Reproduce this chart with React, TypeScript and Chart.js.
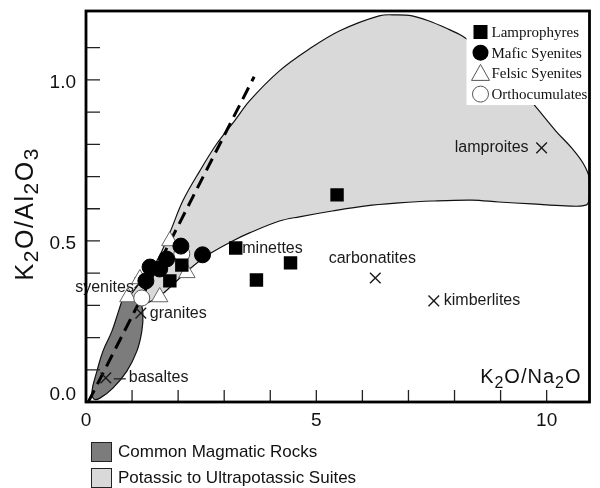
import { useEffect, useRef } from 'react';
import { Chart, registerables } from 'chart.js';

Chart.register(...registerables);

// ---- axis ranges and ticks ----
const xRange = [0, 10.93];
const yRange = [0, 1.214];
const xMinorTicks = [1, 2, 3, 4, 5, 6, 7, 8, 9, 10];
const yMinorTicks = [0.1, 0.2, 0.3, 0.4, 0.5, 0.6, 0.7, 0.8, 0.9, 1.0, 1.1];
const xLabelValues = [0, 5, 10];
const xLabelTexts = ['0', '5', '10'];
const yLabelValues = [0, 0.5, 1.0];
const yLabelTexts = ['0.0', '0.5', '1.0'];

// ---- compositional fields (closed outlines, K2O/Na2O vs K2O/Al2O3) ----
const potassicX = [
  0.866, 1.169, 1.537, 1.818, 2.1, 2.468, 2.835, 3.225, 3.55, 4.199, 4.848, 5.498, 6.364, 6.732,
  7.078, 7.446, 7.814, 8.16, 8.745, 9.286, 9.784, 10.195, 10.541, 10.801, 10.93, 10.93, 10.866,
  10.411, 9.675, 8.961, 8.377, 7.511, 6.797, 6.082, 5.346, 4.632, 4.199, 3.55, 3.182, 2.684, 2.251,
  1.926, 1.602, 1.277, 1.039, 0.866,
];
const potassicY = [
  0.314, 0.37, 0.438, 0.525, 0.624, 0.717, 0.801, 0.873, 0.935, 1.028, 1.096, 1.152, 1.199, 1.202,
  1.199, 1.183, 1.161, 1.137, 1.075, 0.997, 0.913, 0.842, 0.789, 0.739, 0.693, 0.64, 0.612,
  0.609, 0.615, 0.621, 0.627, 0.624, 0.618, 0.609, 0.593, 0.575, 0.562, 0.525, 0.5, 0.46, 0.413,
  0.37, 0.329, 0.304, 0.298, 0.314,
];
const commonX = [
  0.779, 0.996, 1.169, 1.234, 1.212, 1.104, 0.887, 0.584, 0.303, 0.173, 0.13, 0.238, 0.368, 0.563,
  0.693, 0.779,
];
const commonY = [
  0.314, 0.32, 0.311, 0.276, 0.22, 0.158, 0.096, 0.043, 0.012, 0.009, 0.034, 0.096, 0.158, 0.22,
  0.276, 0.314,
];

// ---- dashed trend ----
const trendX = [0.05, 3.65];
const trendY = [0.0, 1.01];

// ---- samples ----
const lamprophyreX = [2.08, 1.82, 3.25, 4.44, 3.7, 5.45];
const lamprophyreY = [0.425, 0.376, 0.478, 0.432, 0.379, 0.643];
const maficSyeniteX = [2.06, 2.53, 1.75, 1.6, 1.39, 1.3];
const maficSyeniteY = [0.484, 0.457, 0.444, 0.413, 0.419, 0.376];
const felsicSyeniteX = [1.82, 1.17, 0.91, 1.6, 2.19];
const felsicSyeniteY = [0.5, 0.382, 0.326, 0.326, 0.401];
const orthocumulateX = [2.08, 1.21];
const orthocumulateY = [0.46, 0.323];

// ---- reference rock types ----
const rockNames = ['basaltes', 'granites', 'syenites', 'minettes', 'carbonatites', 'kimberlites', 'lamproites'];
const rockX = [0.43, 1.19, 1.17, 3.24, 6.28, 7.55, 9.89];
const rockY = [0.075, 0.276, 0.37, 0.478, 0.385, 0.314, 0.789];

const legendNames = ['Lamprophyres', 'Mafic Syenites', 'Felsic Syenites', 'Orthocumulates'];
const fieldNames = ['Common Magmatic Rocks', 'Potassic to Ultrapotassic Suites'];

// label placement relative to each reference mark (pixels)
const labelPlacement: Record<string, { align: CanvasTextAlign; dx: number; dy: number; leader?: boolean }> = {
  basaltes: { align: 'left', dx: 23, dy: 0, leader: true },
  granites: { align: 'left', dx: 9, dy: 0 },
  syenites: { align: 'right', dx: -6, dy: 5 },
  minettes: { align: 'left', dx: 7, dy: 1 },
  carbonatites: { align: 'center', dx: -3, dy: -19 },
  kimberlites: { align: 'left', dx: 10, dy: 0 },
  lamproites: { align: 'right', dx: -13, dy: 0 },
};

const SANS = '"Liberation Sans", Arial, Helvetica, sans-serif';
const SERIF = '"Liberation Serif", "Times New Roman", serif';
const LIGHT = '#d9d9d9';
const DARK = '#7c7c7c';

const pts = (xs: number[], ys: number[]) => xs.map((x, i) => ({ x, y: ys[i] }));

type Part = [string, boolean];

function formulaWidth(ctx: CanvasRenderingContext2D, parts: Part[], size: number, sub: number, spacing: number) {
  let w = 0;
  let n = 0;
  for (const [t, isSub] of parts) {
    ctx.font = `${isSub ? sub : size}px ${SANS}`;
    for (const ch of t) {
      w += ctx.measureText(ch).width;
      n++;
    }
  }
  return w + spacing * (n - 1);
}

function drawFormula(
  ctx: CanvasRenderingContext2D,
  parts: Part[],
  x: number,
  y: number,
  size: number,
  sub: number,
  drop: number,
  spacing: number,
) {
  let cx = x;
  ctx.textAlign = 'left';
  ctx.textBaseline = 'alphabetic';
  for (const [t, isSub] of parts) {
    ctx.font = `${isSub ? sub : size}px ${SANS}`;
    for (const ch of t) {
      ctx.fillText(ch, cx, y + (isSub ? drop : 0));
      cx += ctx.measureText(ch).width + spacing;
    }
  }
}

const yTitle: Part[] = [['K', false], ['2', true], ['O/Al', false], ['2', true], ['O', false], ['3', true]];
const xTitle: Part[] = [['K', false], ['2', true], ['O/Na', false], ['2', true], ['O', false]];

const decorations = {
  id: 'decorations',
  afterDatasetsDraw(chart: any) {
    const { ctx, chartArea: a, scales } = chart;
    const xs = scales.x;
    const ys = scales.y;
    ctx.save();

    // reference labels
    ctx.fillStyle = '#1a1a1a';
    ctx.font = `16px ${SANS}`;
    ctx.textBaseline = 'middle';
    rockNames.forEach((name, i) => {
      const p = labelPlacement[name];
      const px = xs.getPixelForValue(rockX[i]);
      const py = ys.getPixelForValue(rockY[i]);
      ctx.textAlign = p.align;
      ctx.fillText(name, px + p.dx, py + p.dy);
      if (p.leader) {
        ctx.strokeStyle = '#1a1a1a';
        ctx.lineWidth = 1.2;
        ctx.beginPath();
        ctx.moveTo(px + 8, py + 1);
        ctx.lineTo(px + 20, py + 1);
        ctx.stroke();
      }
    });

    // sample legend
    const lx = a.right - 123;
    const ly = a.top + 5;
    ctx.fillStyle = '#fff';
    ctx.fillRect(lx, ly, a.right - lx, 89);
    const mx = a.right - 109;
    legendNames.forEach((name, i) => {
      const cy = a.top + 21 + i * 20.7;
      ctx.lineWidth = 1;
      if (i === 0) {
        ctx.fillStyle = '#000';
        ctx.fillRect(mx - 7, cy - 7, 14, 14);
      } else if (i === 1) {
        ctx.fillStyle = '#000';
        ctx.beginPath();
        ctx.arc(mx, cy, 8, 0, Math.PI * 2);
        ctx.fill();
      } else if (i === 2) {
        ctx.fillStyle = '#fff';
        ctx.strokeStyle = '#555';
        ctx.beginPath();
        ctx.moveTo(mx, cy - 9);
        ctx.lineTo(mx + 9, cy + 7);
        ctx.lineTo(mx - 9, cy + 7);
        ctx.closePath();
        ctx.fill();
        ctx.stroke();
      } else {
        ctx.fillStyle = '#fff';
        ctx.strokeStyle = '#555';
        ctx.beginPath();
        ctx.arc(mx, cy, 8, 0, Math.PI * 2);
        ctx.fill();
        ctx.stroke();
      }
      ctx.fillStyle = '#111';
      ctx.font = `15px ${SERIF}`;
      ctx.textAlign = 'left';
      ctx.textBaseline = 'middle';
      ctx.fillText(name, a.right - 98, cy + 1);
    });

    // inward tick marks
    ctx.strokeStyle = '#222';
    ctx.lineWidth = 1.3;
    ctx.beginPath();
    for (const v of yMinorTicks) {
      const py = ys.getPixelForValue(v);
      ctx.moveTo(a.left, py);
      ctx.lineTo(a.left + 14, py);
    }
    for (const v of xMinorTicks) {
      const px = xs.getPixelForValue(v);
      ctx.moveTo(px, a.bottom);
      ctx.lineTo(px, a.bottom - 12);
    }
    ctx.stroke();

    // frame
    ctx.strokeStyle = '#000';
    ctx.lineWidth = 2.8;
    ctx.strokeRect(a.left, a.top, a.right - a.left, a.bottom - a.top);

    // tick labels
    ctx.fillStyle = '#111';
    ctx.font = `19px ${SANS}`;
    ctx.textAlign = 'right';
    ctx.textBaseline = 'middle';
    yLabelValues.forEach((v, i) => {
      const py = Math.min(ys.getPixelForValue(v) + 3, a.bottom - 7);
      ctx.fillText(yLabelTexts[i], a.left - 10, py);
    });
    ctx.textAlign = 'center';
    xLabelValues.forEach((v, i) => {
      ctx.fillText(xLabelTexts[i], xs.getPixelForValue(v), a.bottom + 19);
    });

    // axis titles
    ctx.fillStyle = '#111';
    const xtW = formulaWidth(ctx, xTitle, 20, 16, 1);
    drawFormula(ctx, xTitle, a.right - 9 - xtW, a.bottom - 19, 20, 16, 5, 1);
    ctx.save();
    ctx.translate(33, (a.top + a.bottom) / 2 + 8);
    ctx.rotate(-Math.PI / 2);
    const ytW = formulaWidth(ctx, yTitle, 25, 21, 1.5);
    drawFormula(ctx, yTitle, -ytW / 2, 0, 25, 21, 5, 1.5);
    ctx.restore();

    // field legend
    const fillColors = [DARK, LIGHT];
    fieldNames.forEach((name, i) => {
      const by = a.bottom + 40 + i * 26;
      ctx.fillStyle = fillColors[i];
      ctx.fillRect(a.left + 5, by, 20, 20);
      ctx.strokeStyle = '#222';
      ctx.lineWidth = 1;
      ctx.strokeRect(a.left + 5.5, by + 0.5, 20, 19);
      ctx.fillStyle = '#111';
      ctx.font = `17px ${SANS}`;
      ctx.textAlign = 'left';
      ctx.textBaseline = 'middle';
      ctx.fillText(name, a.left + 32, by + 10);
    });

    ctx.restore();
  },
};

export default function App() {
  const ref = useRef<HTMLCanvasElement | null>(null);

  useEffect(() => {
    document.body.style.margin = '0';
    const canvas = ref.current;
    if (!canvas) return;
    const chart = new Chart(canvas, {
      type: 'scatter',
      data: {
        datasets: [
          {
            type: 'line',
            label: 'Potassic to Ultrapotassic Suites',
            data: pts(potassicX, potassicY),
            showLine: true,
            fill: 'shape',
            backgroundColor: LIGHT,
            borderColor: '#111',
            borderWidth: 1.2,
            tension: 0.35,
            pointRadius: 0,
            order: 10,
          },
          {
            type: 'line',
            label: 'Common Magmatic Rocks',
            data: pts(commonX, commonY),
            showLine: true,
            fill: 'shape',
            backgroundColor: DARK,
            borderColor: '#111',
            borderWidth: 1.2,
            tension: 0.4,
            pointRadius: 0,
            order: 9,
          },
          {
            type: 'line',
            label: 'trend',
            data: pts(trendX, trendY),
            showLine: true,
            fill: false,
            borderColor: '#000',
            borderWidth: 3,
            borderDash: [13, 7],
            pointRadius: 0,
            order: 8,
          },
          {
            label: 'reference rocks',
            data: pts(rockX, rockY),
            pointStyle: 'crossRot',
            pointRadius: 7.5,
            borderColor: '#1a1a1a',
            borderWidth: 1.4,
            order: 7,
          },
          {
            label: 'Felsic Syenites',
            data: pts(felsicSyeniteX, felsicSyeniteY),
            pointStyle: 'triangle',
            pointRadius: 9.5,
            backgroundColor: '#fff',
            borderColor: '#666',
            borderWidth: 1,
            order: 4,
          },
          {
            label: 'Orthocumulates',
            data: pts(orthocumulateX, orthocumulateY),
            pointStyle: 'circle',
            pointRadius: 8,
            backgroundColor: '#fff',
            borderColor: '#555',
            borderWidth: 1,
            order: 3,
          },
          {
            label: 'Mafic Syenites',
            data: pts(maficSyeniteX, maficSyeniteY),
            pointStyle: 'circle',
            pointRadius: 8,
            backgroundColor: '#000',
            borderColor: '#000',
            borderWidth: 1,
            order: 2,
          },
          {
            label: 'Lamprophyres',
            data: pts(lamprophyreX, lamprophyreY),
            pointStyle: 'rect',
            pointRadius: 9.5,
            backgroundColor: '#000',
            borderColor: '#000',
            borderWidth: 0,
            order: 1,
          },
        ],
      },
      options: {
        animation: false,
        responsive: false,
        devicePixelRatio: 1,
        layout: { padding: { left: 86, right: 9, top: 11, bottom: 86 } },
        plugins: { legend: { display: false }, tooltip: { enabled: false } },
        scales: {
          x: { type: 'linear', min: xRange[0], max: xRange[1], display: false },
          y: { type: 'linear', min: yRange[0], max: yRange[1], display: false },
        },
      },
      plugins: [decorations],
    });
    return () => chart.destroy();
  }, []);

  return (
    <div style={{ width: 600, height: 488, background: '#fff' }}>
      <canvas ref={ref} width={600} height={488} />
    </div>
  );
}
